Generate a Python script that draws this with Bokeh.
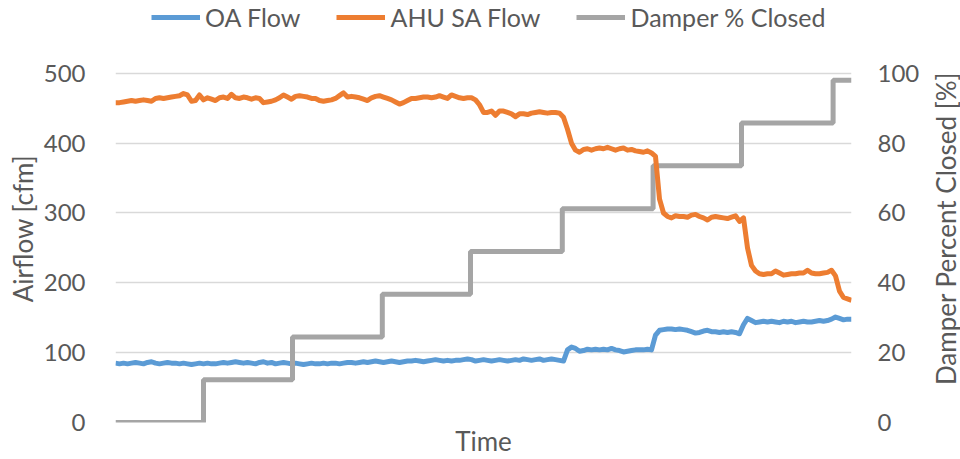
import math
from bokeh.plotting import figure
from bokeh.layouts import row
from bokeh.models import Range1d, LinearAxis, Legend, LegendItem, FixedTicker
from bokeh.core.properties import value
from bokeh.embed import file_html
from bokeh.resources import INLINE

FONT = "Lato"
TXT = "#595959"

# time index (one sample per reading)
time = list(range(185))

ahu_sa_flow = [
    458, 458, 459, 460, 461, 460, 461, 462, 461, 460,
    464, 465, 464, 465, 466, 467, 468, 471, 469, 460,
    461, 469, 462, 465, 463, 461, 465, 466, 464, 470,
    465, 464, 466, 465, 463, 465, 464, 458, 459, 460,
    462, 465, 469, 466, 463, 467, 468, 467, 466, 464,
    464, 461, 460, 461, 462, 464, 468, 472, 466, 467,
    466, 465, 463, 461, 465, 467, 468, 466, 464, 462,
    459, 456, 458, 461, 464, 464, 465, 466, 466, 465,
    466, 468, 466, 464, 469, 467, 465, 464, 465, 465,
    462, 455, 444, 444, 446, 440, 446, 446, 444, 442,
    438, 442, 442, 441, 443, 444, 445, 444, 443, 444,
    444, 443, 437, 420, 400, 390, 387, 391, 392, 390,
    392, 393, 392, 394, 392, 390, 392, 393, 390, 391,
    389, 388, 387, 389, 386, 381, 320, 300, 295, 293,
    296, 295, 295, 294, 297, 298, 295, 293, 290, 294,
    295, 294, 293, 292, 294, 296, 288, 293, 250, 225,
    217, 213, 212, 213, 213, 217, 214, 211, 212, 213,
    213, 214, 214, 218, 214, 213, 213, 214, 215, 218,
    210, 188, 179, 177, 175,
]

oa_flow = [
    85, 84, 85, 84, 85, 86, 85, 84, 86, 87,
    85, 84, 85, 86, 85, 85, 84, 85, 84, 83,
    84, 85, 84, 85, 84, 84, 85, 86, 85, 86,
    87, 86, 85, 86, 85, 84, 86, 87, 85, 86,
    84, 85, 86, 85, 84, 85, 84, 83, 84, 85,
    84, 84, 85, 84, 85, 85, 84, 85, 86, 86,
    85, 86, 87, 86, 87, 88, 87, 86, 87, 88,
    87, 86, 87, 88, 88, 89, 88, 87, 88, 89,
    90, 89, 88, 89, 88, 89, 89, 90, 91, 90,
    88, 89, 90, 89, 88, 89, 90, 89, 88, 89,
    90, 89, 91, 90, 89, 90, 91, 89, 90, 91,
    90, 89, 88, 104, 108, 106, 102, 103, 105, 104,
    105, 104, 105, 104, 106, 104, 103, 101, 102, 103,
    104, 104, 104, 105, 104, 125, 132, 133, 134, 134,
    133, 134, 133, 132, 130, 128, 129, 131, 132, 130,
    130, 129, 130, 129, 130, 129, 127, 140, 149, 146,
    143, 144, 145, 144, 145, 144, 143, 145, 144, 145,
    143, 144, 145, 144, 144, 145, 146, 145, 146, 148,
    151, 149, 147, 148, 148,
]

# damper step changes (time index where each step starts) and % closed
damper_time = [0, 22, 44.25, 66.7, 88.75, 111.7, 134.4, 156.5, 179.4, 184]
damper_pct = [0, 12.25, 24.5, 36.75, 49, 61.25, 73.5, 85.75, 98, 98]

left_ticks = [0, 100, 200, 300, 400, 500]
right_ticks = [0, 20, 40, 60, 80, 100]

H = 459
PLOT_H = 350          # height of the 0-500 band in px
FRAME_H = 423         # frame runs from the top of the page to the x axis (room for legend)
AIR_TOP = 500 * FRAME_H / PLOT_H
PCT_TOP = 100 * FRAME_H / PLOT_H

p = figure(width=892, height=H, output_backend="svg", toolbar_location=None,
           x_range=Range1d(0, 184), y_range=Range1d(0, AIR_TOP),
           min_border_left=77, min_border_right=79,
           min_border_top=0, min_border_bottom=36)
p.outline_line_color = None
p.background_fill_color = "white"
p.extra_y_ranges = {"pct": Range1d(0, PCT_TOP)}

p.xgrid.visible = False
p.ygrid.ticker = FixedTicker(ticks=left_ticks)
p.ygrid.grid_line_color = "#D9D9D9"
p.ygrid.grid_line_width = 1.5

xa = p.xaxis[0]
xa.ticker = FixedTicker(ticks=[])
xa.axis_line_color = None
xa.major_tick_line_color = None
xa.minor_tick_line_color = None
xa.major_tick_out = 0
xa.major_tick_in = 0
xa.major_label_standoff = 0
xa.axis_label = "Time"
xa.axis_label_standoff = 2
xa.axis_label_text_font = FONT
xa.axis_label_text_font_size = "26px"
xa.axis_label_text_font_style = "normal"
xa.axis_label_text_color = TXT

ya = p.yaxis[0]
ya.ticker = FixedTicker(ticks=left_ticks)
ya.axis_line_color = None
ya.major_tick_line_color = None
ya.minor_tick_line_color = None
ya.major_tick_out = 0
ya.major_tick_in = 0
ya.major_label_standoff = 30
ya.major_label_text_font = FONT
ya.major_label_text_font_size = "24px"
ya.major_label_text_color = TXT

ra = LinearAxis(y_range_name="pct", ticker=FixedTicker(ticks=right_ticks))
ra.axis_line_color = None
ra.major_tick_line_color = None
ra.minor_tick_line_color = None
ra.major_tick_out = 0
ra.major_tick_in = 0
ra.major_label_standoff = 26
ra.major_label_text_font = FONT
ra.major_label_text_font_size = "24px"
ra.major_label_text_color = TXT
p.add_layout(ra, "right")

r_oa = p.line(time, oa_flow, line_color="#5B9BD5", line_width=5, line_join="round")
r_dm = p.step(damper_time, damper_pct, mode="after", y_range_name="pct",
              line_color="#A5A5A5", line_width=5)
r_sa = p.line(time, ahu_sa_flow, line_color="#ED7D31", line_width=5, line_join="round")

legend = Legend(items=[LegendItem(label="OA Flow", renderers=[r_oa]),
                       LegendItem(label="AHU SA Flow", renderers=[r_sa]),
                       LegendItem(label="Damper % Closed", renderers=[r_dm])],
                orientation="horizontal", location=(36, FRAME_H - 36),
                border_line_color=None, background_fill_alpha=0,
                padding=0, margin=0, spacing=36, glyph_width=49, glyph_height=36,
                label_standoff=5, label_height=36,
                label_text_font=FONT, label_text_font_size="25px",
                label_text_color=TXT)
p.add_layout(legend)


def title_strip(width, x, text):
    s = figure(width=width, height=H, output_backend="svg", toolbar_location=None,
               x_range=Range1d(0, width), y_range=Range1d(0, H),
               min_border_left=0, min_border_right=0, min_border_top=0, min_border_bottom=0,
               x_axis_location=None, y_axis_location=None)
    s.outline_line_color = None
    s.grid.visible = False
    # centred on the 0-500 band (page y = 73 .. 423)
    s.text(x=[x], y=[H - 248], text=[text], angle=math.pi / 2,
           text_align="center", text_baseline="middle",
           text_font=value(FONT), text_font_size="26px", text_color=TXT)
    return s


left_title = title_strip(38, 22, "Airflow [cfm]")
right_title = title_strip(30, 15, "Damper Percent Closed [%]")

layout = row(left_title, p, right_title, spacing=0)
open("out.html", "w").write(file_html(layout, INLINE))
